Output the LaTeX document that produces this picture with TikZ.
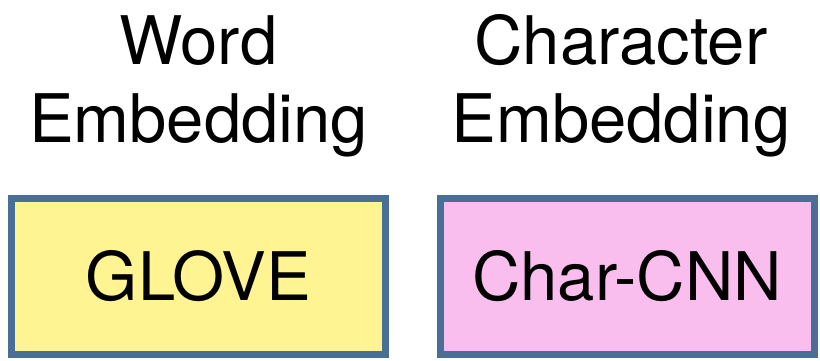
\documentclass[tikz,border=0pt]{standalone}
\usepackage{fontspec}
\setmainfont{TeX Gyre Heros}
\usetikzlibrary{positioning}
\definecolor{borderblue}{RGB}{74,111,151}
\definecolor{gloveyellow}{RGB}{255,244,145}
\definecolor{charpink}{RGB}{249,190,238}

\tikzset{
  embbox/.style={draw=borderblue, line width=7pt, minimum width=374pt, minimum height=156pt, inner sep=0pt},
  headline/.style={align=center, inner sep=0pt}
}

\begin{document}
\begin{tikzpicture}[x=1pt, y=1pt, font=\fontsize{67}{78}\selectfont]
\useasboundingbox (0,0) rectangle (820,-360);
% Embedding boxes
\node[embbox, fill=gloveyellow] (glove) at (198.5,-276.5) {GLOVE};
\node[embbox, fill=charpink] (charcnn) at (627,-276.5) {Char-CNN};

% Headings
\node[headline, above=38pt of glove] (wordhead) {Word\\Embedding};
\node[headline, above=38pt of charcnn, xshift=-6pt] (charhead) {Character\\Embedding};
\end{tikzpicture}
\end{document}
